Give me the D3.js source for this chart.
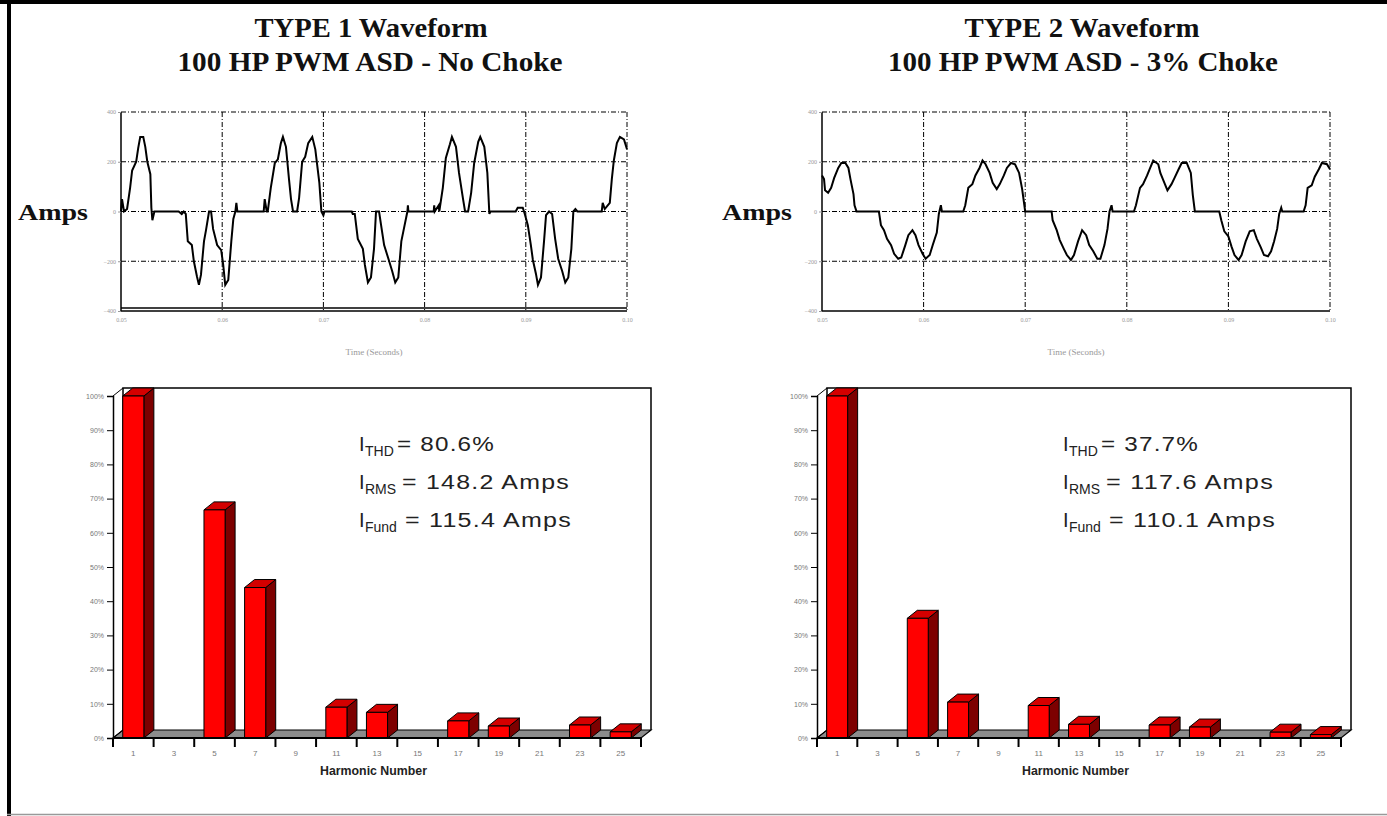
<!DOCTYPE html>
<html>
<head>
<meta charset="utf-8">
<script src="https://cdn.jsdelivr.net/npm/d3@7"></script>
<style>
  html, body { margin: 0; padding: 0; background: #fff; }
  svg { display: block; }
</style>
</head>
<body>
<svg id="chart" width="1387" height="816"></svg>
<script>
// ---- Data ----------------------------------------------------------------
const harmonics = [1, 3, 5, 7, 9, 11, 13, 15, 17, 19, 21, 23, 25];
// Harmonic magnitude, % of fundamental
const type1Pct = [100, 0, 66.7, 44, 0, 9, 7.5, 0, 5, 3.5, 0, 3.8, 1.8];
const type2Pct = [100, 0, 35, 10.5, 0, 9.5, 4, 0, 3.8, 3.2, 0, 1.7, 1];

const pctTicks = [0, 10, 20, 30, 40, 50, 60, 70, 80, 90, 100];
const timeTicks = [0.05, 0.06, 0.07, 0.08, 0.09, 0.10];
const ampTicks = [400, 200, 0, -200, -400];

const type1Stats = ["80.6%", "148.2 Amps", "115.4 Amps"];
const type2Stats = ["37.7%", "117.6 Amps", "110.1 Amps"];
const statSubs = ["THD", "RMS", "Fund"];

// Current waveform, 100 HP drive without choke (time in ms, current in A)
const type1TimeMs = [50.0,50.1,50.3,50.6,50.9,51.1,51.5,51.7,51.9,52.2,52.4,52.6,52.9,53.0,53.1,53.3,
  55.7,56.0,56.2,56.4,56.6,57.0,57.2,57.5,57.7,57.9,58.2,58.4,58.7,58.9,59.1,59.5,59.9,60.1,60.3,60.6,60.9,61.1,61.3,61.4,61.5,
  64.1,64.2,64.4,64.5,64.8,65.2,65.5,65.8,66.0,66.3,66.6,66.8,67.0,67.4,67.6,67.9,68.2,68.5,68.9,69.2,69.6,69.8,70.0,70.1,
  72.8,72.9,73.1,73.4,73.9,74.1,74.4,74.7,75.0,75.2,75.5,75.7,76.0,76.5,76.8,77.1,77.4,77.7,77.9,78.3,78.35,78.4,
  80.9,80.95,81.0,81.4,81.45,81.8,82.1,82.5,82.7,83.1,83.4,83.8,84.0,84.3,84.6,84.9,85.3,85.5,85.9,86.2,86.4,86.5,
  89.0,89.2,89.7,89.9,90.2,90.5,90.7,91.0,91.2,91.5,91.8,92.0,92.3,92.6,92.9,93.2,93.6,93.9,94.2,94.5,94.7,94.9,95.1,
  97.5,97.6,97.8,98.3,98.5,98.7,99.0,99.3,99.7,100.0];
const type1Amps = [0,50,0,10,95,165,200,255,300,300,260,200,150,15,-35,0,
  0,-10,0,-10,-120,-135,-200,-260,-295,-255,-120,-75,0,0,-70,-135,-155,-215,-295,-275,-120,-30,0,35,0,
  0,50,0,0,95,195,210,275,300,260,130,50,0,0,55,200,220,275,300,250,115,0,-15,0,
  0,-10,-10,-110,-150,-215,-285,-265,-150,0,0,-55,-135,-200,-240,-285,-265,-120,-80,0,25,0,
  0,25,0,25,0,95,215,270,300,260,155,50,0,0,75,195,280,300,260,155,-10,0,
  0,15,15,-10,-55,-135,-195,-250,-295,-265,-120,-15,0,-10,-110,-190,-240,-285,-265,-150,0,10,0,
  0,35,10,35,130,205,275,300,290,250];

// Current waveform, same drive with 3% choke
const type2TimeMs = [50.0,50.2,50.3,50.6,50.9,51.2,51.6,51.9,52.3,52.6,52.8,53.1,53.2,53.4,
  55.6,55.8,56.1,56.4,56.8,57.1,57.5,57.8,58.2,58.5,58.9,59.2,59.5,59.9,60.2,60.6,60.9,61.3,61.5,61.7,61.8,
  63.9,64.1,64.4,64.8,65.1,65.5,65.8,66.1,66.5,66.8,67.2,67.5,67.9,68.2,68.6,69.0,69.4,69.7,70.0,
  72.6,72.7,73.1,73.4,73.8,74.1,74.5,74.8,75.2,75.6,76.0,76.3,76.7,77.1,77.4,77.8,78.1,78.3,78.5,78.6,
  80.7,80.9,81.3,81.6,82.0,82.3,82.6,83.1,83.3,83.7,84.0,84.4,84.7,85.1,85.4,85.9,86.3,86.5,86.7,
  89.1,89.3,89.6,90.0,90.3,90.6,91.0,91.3,91.7,92.1,92.5,92.8,93.2,93.5,93.9,94.2,94.5,94.8,95.0,95.2,95.3,
  97.4,97.6,97.8,98.2,98.5,98.9,99.2,99.7,100.0];
const type2Amps = [145,130,85,75,95,135,175,195,195,175,130,70,25,0,
  0,-55,-75,-110,-135,-170,-190,-185,-135,-95,-75,-95,-135,-170,-190,-175,-135,-85,-10,25,0,
  0,25,95,110,145,175,205,190,155,115,90,110,145,175,195,190,155,90,0,
  0,-35,-75,-115,-150,-175,-195,-175,-120,-75,-95,-135,-160,-190,-190,-135,-70,0,25,0,
  0,25,95,110,145,175,205,190,155,115,85,110,135,170,195,195,155,65,0,
  0,-35,-80,-100,-140,-175,-195,-175,-120,-80,-75,-110,-145,-175,-180,-160,-120,-70,-10,15,0,
  0,25,95,105,140,170,195,190,170];

// ---- Drawing -------------------------------------------------------------
const svg = d3.select("#chart");
const W = 1387, H = 816;

// page frame
svg.append("rect").attr("x", 0).attr("y", 0).attr("width", W).attr("height", 4).attr("fill", "#000");
svg.append("rect").attr("x", 7).attr("y", 0).attr("width", 4).attr("height", H).attr("fill", "#000");
svg.append("line").attr("x1", 7).attr("x2", W).attr("y1", 814.5).attr("y2", 814.5)
  .attr("stroke", "#999").attr("stroke-width", 1.5);

function title(cx, y, str, len) {
  svg.append("text").attr("x", cx - len / 2).attr("y", y)
    .attr("textLength", len).attr("lengthAdjust", "spacingAndGlyphs")
    .attr("font-family", "'Liberation Serif', 'Times New Roman', serif")
    .attr("font-weight", "bold").attr("font-size", 27).attr("fill", "#111")
    .text(str);
}
title(371, 37, "TYPE 1 Waveform", 233);
title(370, 71, "100 HP PWM ASD - No Choke", 385);
title(1082, 37, "TYPE 2 Waveform", 235);
title(1083, 71, "100 HP PWM ASD - 3% Choke", 390);

const dashDot = "5,2,1,2";

function drawWave(cfg) {
  const g = svg.append("g");
  const x = d3.scaleLinear().domain([0.05, 0.10]).range([cfg.x0, cfg.x1]);
  const y = d3.scaleLinear().domain([-400, 400]).range([311, 112]);

  // "Amps" axis title
  g.append("text").attr("x", cfg.ampsX).attr("y", 220)
    .attr("textLength", 70).attr("lengthAdjust", "spacingAndGlyphs")
    .attr("font-family", "'Liberation Serif', 'Times New Roman', serif")
    .attr("font-weight", "bold").attr("font-size", 23).attr("fill", "#111")
    .text("Amps");

  // dash-dot grid
  timeTicks.slice(1, -1).forEach(t => {
    g.append("line").attr("x1", x(t)).attr("x2", x(t)).attr("y1", y(400)).attr("y2", y(-400))
      .attr("stroke", "#000").attr("stroke-width", 1).attr("stroke-dasharray", dashDot);
  });
  [200, 0, -200].forEach(a => {
    g.append("line").attr("x1", x(0.05)).attr("x2", x(0.10)).attr("y1", y(a)).attr("y2", y(a))
      .attr("stroke", "#000").attr("stroke-width", 1).attr("stroke-dasharray", dashDot);
  });
  g.append("line").attr("x1", x(0.05)).attr("x2", x(0.10)).attr("y1", y(400)).attr("y2", y(400))
    .attr("stroke", "#000").attr("stroke-width", 1).attr("stroke-dasharray", dashDot);
  g.append("line").attr("x1", x(0.10)).attr("x2", x(0.10)).attr("y1", y(400)).attr("y2", y(-400))
    .attr("stroke", "#000").attr("stroke-width", 1).attr("stroke-dasharray", dashDot);

  // solid left and bottom axes
  g.append("line").attr("x1", x(0.05)).attr("x2", x(0.05)).attr("y1", y(400)).attr("y2", y(-400))
    .attr("stroke", "#000").attr("stroke-width", 1.5);
  g.append("line").attr("x1", x(0.05)).attr("x2", x(0.10)).attr("y1", y(-400)).attr("y2", y(-400))
    .attr("stroke", "#000").attr("stroke-width", 1.5);
  if (cfg.doubleBottom) {
    g.append("line").attr("x1", x(0.05)).attr("x2", x(0.10)).attr("y1", y(-400) - 3).attr("y2", y(-400) - 3)
      .attr("stroke", "#000").attr("stroke-width", 1.5);
  }

  // tick labels
  const ya = g.append("g").attr("transform", `translate(${x(0.05)},0)`)
    .call(d3.axisLeft(y).tickValues(ampTicks).tickSize(3).tickPadding(2).tickFormat(d3.format("d")));
  ya.select(".domain").remove();
  ya.selectAll("line").attr("stroke", "#999");
  ya.selectAll("text").attr("font-size", 6).attr("fill", "#999").attr("font-family", "'Liberation Serif', serif");

  const xa = g.append("g").attr("transform", `translate(0,${y(-400)})`)
    .call(d3.axisBottom(x).tickValues(timeTicks).tickSize(0).tickPadding(7).tickFormat(d3.format(".2f")));
  xa.select(".domain").remove();
  xa.selectAll("text").attr("font-size", 6).attr("fill", "#999").attr("font-family", "'Liberation Serif', serif");

  g.append("text").attr("x", (cfg.x0 + cfg.x1) / 2).attr("y", 355).attr("text-anchor", "middle")
    .attr("font-family", "'Liberation Serif', serif").attr("font-size", 9).attr("fill", "#999")
    .text("Time (Seconds)");

  // waveform trace
  const pts = cfg.time.map((t, i) => [t / 1000, cfg.amps[i]]);
  const line = d3.line().x(d => x(d[0])).y(d => y(d[1])).curve(d3.curveLinear);
  g.append("path").datum(pts).attr("d", line)
    .attr("fill", "none").attr("stroke", "#000").attr("stroke-width", 2).attr("stroke-linejoin", "miter");
}

drawWave({ x0: 121, x1: 627, ampsX: 18, time: type1TimeMs, amps: type1Amps, doubleBottom: true });
drawWave({ x0: 822, x1: 1330, ampsX: 722, time: type2TimeMs, amps: type2Amps, doubleBottom: false });

function drawBars(cfg) {
  const g = svg.append("g");
  const dx = 10, dy = -8;
  const x = d3.scaleBand().domain(harmonics).range([cfg.x0, cfg.x1]).padding(0);
  const y = d3.scaleLinear().domain([0, 100]).range([738, 396]);
  const step = x.step();
  const bw = step * 0.52;
  const base = y(0);

  // back wall outline
  g.append("path")
    .attr("d", `M${cfg.x0 + dx},${base + dy} L${cfg.x0 + dx},${y(100) + dy} L${cfg.x1 + dx},${y(100) + dy} L${cfg.x1 + dx},${base + dy}`)
    .attr("fill", "none").attr("stroke", "#000").attr("stroke-width", 1.5);
  g.append("line").attr("x1", cfg.x0).attr("y1", y(100)).attr("x2", cfg.x0 + dx).attr("y2", y(100) + dy)
    .attr("stroke", "#000").attr("stroke-width", 1);

  // floor
  g.append("path")
    .attr("d", `M${cfg.x0},${base} L${cfg.x1},${base} L${cfg.x1 + dx},${base + dy} L${cfg.x0 + dx},${base + dy} Z`)
    .attr("fill", "#8c8c8c").attr("stroke", "#000").attr("stroke-width", 1.2);

  // 3-D bars
  harmonics.forEach((h, i) => {
    const v = cfg.values[i];
    if (!v) return;
    const left = x(h) + (step - bw) / 2;
    const right = left + bw;
    const top = y(v);
    const bar = g.append("g").attr("stroke", "#000").attr("stroke-width", 1).attr("stroke-linejoin", "round");
    bar.append("path")
      .attr("d", `M${right},${base} L${right},${top} L${right + dx},${top + dy} L${right + dx},${base + dy} Z`)
      .attr("fill", "#7d0000");
    bar.append("path")
      .attr("d", `M${left},${top} L${left + dx},${top + dy} L${right + dx},${top + dy} L${right},${top} Z`)
      .attr("fill", "#d40000");
    bar.append("rect").attr("x", left).attr("y", top).attr("width", bw).attr("height", base - top)
      .attr("fill", "#ff0000");
  });

  // y axis
  const ya = g.append("g").attr("transform", `translate(${cfg.x0},0)`)
    .call(d3.axisLeft(y).tickValues(pctTicks).tickSize(6).tickPadding(3).tickFormat(d => d + "%"));
  ya.select(".domain").attr("stroke-width", 1.5);
  ya.selectAll("line").attr("stroke-width", 1);
  ya.selectAll("text").attr("font-size", 7).attr("fill", "#777").attr("font-family", "'Liberation Sans', Arial, sans-serif");
  g.append("line").attr("x1", cfg.x0).attr("y1", base).attr("x2", cfg.x0 + dx).attr("y2", base + dy)
    .attr("stroke", "#000").attr("stroke-width", 1);

  // x axis with ticks at category boundaries
  g.append("line").attr("x1", cfg.x0).attr("x2", cfg.x1).attr("y1", base).attr("y2", base)
    .attr("stroke", "#000").attr("stroke-width", 2);
  d3.range(harmonics.length + 1).forEach(i => {
    const bx = cfg.x0 + i * step;
    g.append("line").attr("x1", bx).attr("x2", bx).attr("y1", base).attr("y2", base + 9)
      .attr("stroke", "#000").attr("stroke-width", 2);
  });
  harmonics.forEach(h => {
    g.append("text").attr("x", x(h) + step / 2).attr("y", 756).attr("text-anchor", "middle")
      .attr("font-family", "'Liberation Sans', Arial, sans-serif").attr("font-size", 8).attr("fill", "#777")
      .text(h);
  });
  g.append("text").attr("x", cfg.hnX).attr("y", 775)
    .attr("textLength", 107).attr("lengthAdjust", "spacingAndGlyphs")
    .attr("font-family", "'Liberation Sans Narrow', 'Liberation Sans', Arial, sans-serif")
    .attr("font-weight", "bold").attr("font-size", 13).attr("fill", "#222")
    .text("Harmonic Number");

  // summary figures
  const baselines = [451, 489, 527];
  const mainStart = [397, 402, 405];
  const mainLen = [98, 168, 167];
  const font = "'Liberation Sans', Arial, sans-serif";
  cfg.stats.forEach((s, i) => {
    const tx = cfg.textX;
    g.append("text").attr("x", tx).attr("y", baselines[i]).attr("font-family", font)
      .attr("font-size", 20).attr("fill", "#222").text("I");
    g.append("text").attr("x", tx + 6).attr("y", baselines[i] + 5).attr("font-family", font)
      .attr("font-size", 14).attr("fill", "#222").text(statSubs[i]);
    g.append("text").attr("x", tx + (mainStart[i] - 359)).attr("y", baselines[i]).attr("font-family", font)
      .attr("font-size", 20).attr("fill", "#222").attr("letter-spacing", 1)
      .attr("textLength", mainLen[i]).attr("lengthAdjust", "spacingAndGlyphs")
      .text("= " + s);
  });
}

drawBars({ x0: 113, x1: 641, values: type1Pct, stats: type1Stats, textX: 359, hnX: 320 });
drawBars({ x0: 817, x1: 1341, values: type2Pct, stats: type2Stats, textX: 1063, hnX: 1022 });
</script>
</body>
</html>
